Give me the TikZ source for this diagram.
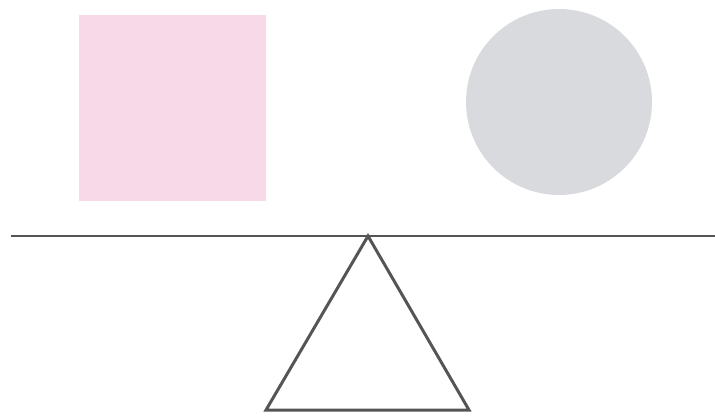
\documentclass[tikz,border=0pt]{standalone}
\usepackage{tikz}
\usetikzlibrary{positioning}
\definecolor{boxpink}{HTML}{F7D9E8}
\definecolor{ballgrey}{HTML}{D9DADD}
\definecolor{beamgrey}{HTML}{555555}
\tikzset{
  weight/.style   = {draw=none, inner sep=0pt, minimum size=3.73cm},
  squarew/.style  = {weight, rectangle, fill=boxpink},
  roundw/.style   = {weight, circle, fill=ballgrey},
  beamline/.style = {draw=beamgrey, line width=1.7pt},
}

\begin{document}
\begin{tikzpicture}[x=0.02cm, y=-0.02cm]
  \useasboundingbox (0,0) rectangle (715,415);
  % ---- the two weights
  \node[squarew] (sq) at (172.5,108) {};
  \node[roundw, minimum size=3.72cm] (ball) at (559,102) {};
  % ---- beam
  \coordinate (bl) at (11,236);
  \coordinate (br) at (715,236);
  \draw[beamline] (bl) -- (br);
  % ---- pivot
  \coordinate (apex) at (368,236);
  \coordinate (foot1) at (266,410);
  \coordinate (foot2) at (469,410);
  \draw[beamline, line join=miter] (apex) -- (foot1) -- (foot2) -- cycle;
\end{tikzpicture}
\end{document}
